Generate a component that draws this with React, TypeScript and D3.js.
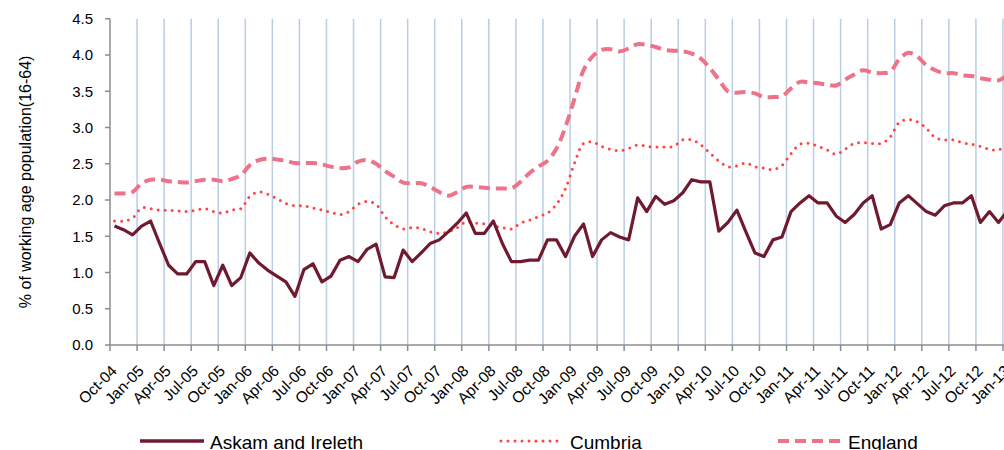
import React from "react";
import * as d3 from "d3";

// Months Oct-04 .. Jan-13 (100 categories)
const monthNames = ["Jan", "Feb", "Mar", "Apr", "May", "Jun", "Jul", "Aug", "Sep", "Oct", "Nov", "Dec"];
const months: string[] = [];
for (let k = 0; k < 100; k++) {
  const m = (9 + k) % 12;
  const y = 4 + Math.floor((9 + k) / 12);
  months.push(`${monthNames[m]}-${String(y).padStart(2, "0")}`);
}

const tickLabels = [
  "Oct-04", "Jan-05", "Apr-05", "Jul-05", "Oct-05", "Jan-06", "Apr-06", "Jul-06", "Oct-06",
  "Jan-07", "Apr-07", "Jul-07", "Oct-07", "Jan-08", "Apr-08", "Jul-08", "Oct-08", "Jan-09",
  "Apr-09", "Jul-09", "Oct-09", "Jan-10", "Apr-10", "Jul-10", "Oct-10", "Jan-11", "Apr-11",
  "Jul-11", "Oct-11", "Jan-12", "Apr-12", "Jul-12", "Oct-12", "Jan-13",
];

const yTicks = [0, 0.5, 1.0, 1.5, 2.0, 2.5, 3.0, 3.5, 4.0, 4.5];

const askam = [
  1.64, 1.59, 1.52, 1.64, 1.71, 1.40, 1.10, 0.98, 0.98, 1.15,
  1.15, 0.82, 1.10, 0.82, 0.93, 1.27, 1.13, 1.03, 0.95, 0.87,
  0.67, 1.04, 1.12, 0.87, 0.95, 1.17, 1.22, 1.15, 1.32, 1.39,
  0.94, 0.93, 1.31, 1.15, 1.27, 1.40, 1.45, 1.56, 1.68, 1.82,
  1.54, 1.54, 1.71, 1.40, 1.15, 1.15, 1.17, 1.17, 1.45, 1.45,
  1.22, 1.50, 1.67, 1.22, 1.45, 1.55, 1.49, 1.45, 2.03, 1.84,
  2.05, 1.94, 1.99, 2.10, 2.28, 2.25, 2.25, 1.57, 1.69, 1.86,
  1.56, 1.27, 1.22, 1.45, 1.49, 1.84, 1.96, 2.06, 1.96, 1.96,
  1.78, 1.69, 1.80, 1.96, 2.06, 1.60, 1.66, 1.96, 2.06, 1.95,
  1.84, 1.79, 1.92, 1.96, 1.96, 2.06, 1.69, 1.84, 1.69, 1.85,
];

const cumbria = [
  1.71, 1.71, 1.75, 1.89, 1.88, 1.86, 1.86, 1.85, 1.84, 1.86,
  1.88, 1.84, 1.82, 1.86, 1.88, 2.05, 2.11, 2.08, 2.02, 1.95,
  1.92, 1.92, 1.89, 1.86, 1.83, 1.80, 1.84, 1.94, 1.98, 1.94,
  1.77, 1.66, 1.60, 1.62, 1.61, 1.56, 1.54, 1.56, 1.62, 1.70,
  1.68, 1.67, 1.64, 1.62, 1.60, 1.68, 1.72, 1.77, 1.82, 1.94,
  2.16, 2.51, 2.78, 2.80, 2.74, 2.70, 2.68, 2.71, 2.76, 2.74,
  2.73, 2.73, 2.74, 2.83, 2.83, 2.76, 2.65, 2.54, 2.46, 2.47,
  2.51, 2.46, 2.44, 2.42, 2.48, 2.64, 2.77, 2.78, 2.74, 2.69,
  2.63, 2.70, 2.78, 2.79, 2.78, 2.78, 2.87, 3.07, 3.11, 3.08,
  2.99, 2.86, 2.83, 2.83, 2.79, 2.77, 2.74, 2.70, 2.69, 2.76,
];

const england = [
  2.09, 2.09, 2.11, 2.23, 2.28, 2.28, 2.26, 2.25, 2.24, 2.26,
  2.28, 2.28, 2.26, 2.29, 2.34, 2.48, 2.55, 2.57, 2.56, 2.54,
  2.51, 2.51, 2.51, 2.49, 2.46, 2.44, 2.45, 2.53, 2.55, 2.50,
  2.40, 2.32, 2.24, 2.23, 2.23, 2.18, 2.11, 2.06, 2.11, 2.18,
  2.18, 2.17, 2.16, 2.16, 2.16, 2.25, 2.37, 2.46, 2.54, 2.71,
  3.01, 3.40, 3.79, 3.98, 4.07, 4.08, 4.05, 4.09, 4.15, 4.14,
  4.11, 4.07, 4.06, 4.05, 4.02, 3.95, 3.82, 3.66, 3.50, 3.48,
  3.49, 3.47, 3.42, 3.42, 3.43, 3.54, 3.63, 3.62, 3.61, 3.59,
  3.58, 3.66, 3.73, 3.79, 3.76, 3.75, 3.77, 3.94, 4.03, 3.98,
  3.86, 3.79, 3.75, 3.75, 3.72, 3.71, 3.68, 3.66, 3.65, 3.72,
];

const seriesNames = ["Askam and Ireleth", "Cumbria", "England"];

const FONT = "'Liberation Sans', Arial, sans-serif";

export default function App() {
  const W = 1004;
  const H = 450;
  const x = d3.scaleBand<string>().domain(months).range([110, 110 + 100 * 9.02]).padding(0);
  const bw = x.bandwidth();
  const cx = (i: number) => (x(months[i]) as number) + bw / 2;
  const y = d3.scaleLinear().domain([0, 4.5]).range([345, 18.75]);

  const straight = d3.line<number>().x((_, i) => cx(i)).y((d) => y(d));
  const smooth = d3
    .line<number>()
    .x((_, i) => cx(i))
    .y((d) => y(d))
    .curve(d3.curveCatmullRom.alpha(0.5));

  const tickXs = tickLabels.map((_, k) => x(months[k * 3]) as number);
  const axisColor = "#8c8c8c";

  return (
    <svg
      width={W}
      height={H}
      style={{ position: "absolute", left: 0, top: 0, display: "block", background: "#fff" }}
      fontFamily={FONT}
    >
      {/* vertical gridlines */}
      {tickXs.slice(1).map((tx, k) => (
        <line key={"g" + k} x1={tx} x2={tx} y1={y(4.5)} y2={y(0)} stroke="#b9cde5" strokeWidth={1.5} />
      ))}
      {/* y axis */}
      <line x1={110} x2={110} y1={y(4.5)} y2={y(0)} stroke={axisColor} strokeWidth={1.5} />
      {yTicks.map((t) => (
        <g key={"y" + t}>
          <line x1={105} x2={110} y1={y(t)} y2={y(t)} stroke={axisColor} strokeWidth={1.5} />
          <text x={93} y={y(t)} dy="0.35em" textAnchor="end" fontSize={15} fill="#000">
            {t.toFixed(1)}
          </text>
        </g>
      ))}
      <text
        transform={`translate(25,${(y(4.5) + y(0)) / 2}) rotate(-90)`}
        textAnchor="middle"
        dy="0.35em"
        fontSize={16}
        fill="#000"
      >
        % of working age population(16-64)
      </text>
      {/* x axis */}
      <line x1={110} x2={W + 20} y1={y(0)} y2={y(0)} stroke={axisColor} strokeWidth={1.5} />
      {tickXs.map((tx, k) => (
        <g key={"x" + k}>
          <line x1={tx} x2={tx} y1={y(0)} y2={y(0) + 6} stroke={axisColor} strokeWidth={1.5} />
          <text
            transform={`translate(${tx + 4},${y(0) + 23}) rotate(-45)`}
            textAnchor="end"
            dy="0.35em"
            fontSize={15.5}
            fill="#000"
          >
            {tickLabels[k]}
          </text>
        </g>
      ))}
      {/* series */}
      <g>
        <path
          d={smooth(england) || ""}
          fill="none"
          stroke="#ee7389"
          strokeWidth={4}
          strokeDasharray="11 6"
        />
        <path
          d={smooth(cumbria) || ""}
          fill="none"
          stroke="#ff4545"
          strokeWidth={3}
          strokeLinecap="round"
          strokeDasharray="0 7"
        />
        <path d={straight(askam) || ""} fill="none" stroke="#6f1a2f" strokeWidth={3.2} strokeLinejoin="round" />
      </g>
      {/* legend */}
      <line x1={140} x2={204} y1={441} y2={441} stroke="#6f1a2f" strokeWidth={3.5} />
      <text x={210} y={449} fontSize={19} fill="#000">{seriesNames[0]}</text>
      <line x1={501} x2={562} y1={441} y2={441} stroke="#ff4545" strokeWidth={3} strokeLinecap="round" strokeDasharray="0 7" />
      <text x={570} y={449} fontSize={19} fill="#000">{seriesNames[1]}</text>
      <line x1={778} x2={842} y1={441} y2={441} stroke="#ee7389" strokeWidth={4} strokeDasharray="11 6" />
      <text x={848} y={449} fontSize={19} fill="#000">{seriesNames[2]}</text>
    </svg>
  );
}
